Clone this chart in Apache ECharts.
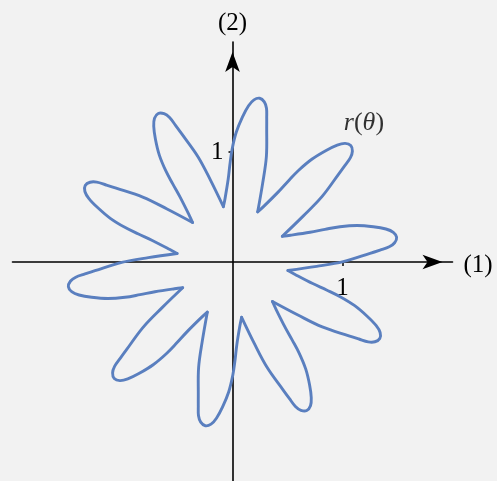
<!DOCTYPE html>
<html>
<head>
<meta charset="utf-8">
<script src="https://cdn.jsdelivr.net/npm/echarts@6/dist/echarts.min.js"></script>
<style>
  html, body { margin: 0; padding: 0; background: #f2f2f2; }
  #chart { width: 497px; height: 481px; }
</style>
</head>
<body>
<div id="chart"></div>
<script>
// Polar curve r(θ) drawn as ten petals; each list runs clockwise from one inner valley to the next.
const petalA = [[-0.083,0.503],[-0.068,0.576],[-0.039,0.754],[-0.023,0.892],[-0.003,1.028],[0.034,1.179],[0.090,1.317],[0.146,1.420],[0.195,1.474],[0.247,1.489],[0.289,1.456],[0.309,1.398],[0.311,1.309],[0.311,1.213],[0.308,0.959],[0.274,0.715],[0.229,0.456]];
const petalB = [[0.229,0.456],[0.284,0.506],[0.412,0.633],[0.506,0.735],[0.602,0.834],[0.721,0.934],[0.847,1.012],[0.952,1.063],[1.024,1.078],[1.075,1.059],[1.090,1.008],[1.072,0.949],[1.021,0.876],[0.965,0.799],[0.813,0.594],[0.642,0.417],[0.453,0.234]];
const petalC = [[0.453,0.234],[0.527,0.243],[0.705,0.270],[0.841,0.297],[0.977,0.321],[1.132,0.332],[1.280,0.321],[1.395,0.300],[1.462,0.270],[1.492,0.225],[1.474,0.175],[1.425,0.138],[1.341,0.109],[1.250,0.079],[1.007,0.003],[0.765,-0.040],[0.504,-0.077]];
const petalD = [[0.504,-0.077],[0.569,-0.113],[0.729,-0.196],[0.855,-0.254],[0.979,-0.315],[1.111,-0.397],[1.224,-0.493],[1.305,-0.577],[1.342,-0.641],[1.339,-0.695],[1.295,-0.725],[1.234,-0.726],[1.149,-0.700],[1.058,-0.671],[0.816,-0.590],[0.595,-0.482],[0.363,-0.359]];
const petalE = [[0.363,-0.359],[0.394,-0.426],[0.475,-0.587],[0.542,-0.708],[0.607,-0.830],[0.666,-0.974],[0.701,-1.118],[0.716,-1.234],[0.709,-1.307],[0.675,-1.350],[0.622,-1.348],[0.572,-1.313],[0.518,-1.242],[0.461,-1.164],[0.314,-0.957],[0.198,-0.740],[0.083,-0.503]];
const petalF = [[0.083,-0.503],[0.068,-0.576],[0.039,-0.754],[0.023,-0.892],[0.003,-1.028],[-0.034,-1.179],[-0.090,-1.317],[-0.146,-1.420],[-0.195,-1.474],[-0.247,-1.489],[-0.289,-1.456],[-0.309,-1.398],[-0.311,-1.309],[-0.311,-1.213],[-0.308,-0.959],[-0.274,-0.715],[-0.229,-0.456]];
const petalG = [[-0.229,-0.456],[-0.284,-0.506],[-0.412,-0.633],[-0.506,-0.735],[-0.602,-0.834],[-0.721,-0.934],[-0.847,-1.012],[-0.952,-1.063],[-1.024,-1.078],[-1.075,-1.059],[-1.090,-1.008],[-1.072,-0.949],[-1.021,-0.876],[-0.965,-0.799],[-0.813,-0.594],[-0.642,-0.417],[-0.453,-0.234]];
const petalH = [[-0.453,-0.234],[-0.527,-0.243],[-0.705,-0.270],[-0.841,-0.297],[-0.977,-0.321],[-1.132,-0.332],[-1.280,-0.321],[-1.395,-0.300],[-1.462,-0.270],[-1.492,-0.225],[-1.474,-0.175],[-1.425,-0.138],[-1.341,-0.109],[-1.250,-0.079],[-1.007,-0.003],[-0.765,0.040],[-0.504,0.077]];
const petalI = [[-0.504,0.077],[-0.569,0.113],[-0.729,0.196],[-0.855,0.254],[-0.979,0.315],[-1.111,0.397],[-1.224,0.493],[-1.305,0.577],[-1.342,0.641],[-1.339,0.695],[-1.295,0.725],[-1.234,0.726],[-1.149,0.700],[-1.058,0.671],[-0.816,0.590],[-0.595,0.482],[-0.363,0.359]];
const petalJ = [[-0.363,0.359],[-0.394,0.426],[-0.475,0.587],[-0.542,0.708],[-0.607,0.830],[-0.666,0.974],[-0.701,1.118],[-0.716,1.234],[-0.709,1.307],[-0.675,1.350],[-0.622,1.348],[-0.572,1.313],[-0.518,1.242],[-0.461,1.164],[-0.314,0.957],[-0.198,0.740],[-0.083,0.503]];

const petals = [petalA, petalB, petalC, petalD, petalE, petalF, petalG, petalH, petalI, petalJ];

// Axis names, the single labelled tick, and where the curve's name sits
const xAxisName = '(1)';
const yAxisName = '(2)';
const tickValues = [1];
const curveNameAt = [1.195, 1.265];

const SERIF = "'Liberation Serif', 'DejaVu Serif', serif";
const CURVE = '#5a7fbf';
const INK = '#000000';

// Plot box: the axes cross at the centre, so each axis is shifted half the box inward
const BOX = 440;
const HALF = BOX / 2;

const axisCommon = {
  type: 'value',
  min: -2,
  max: 2,
  splitLine: { show: false },
  axisLine: {
    onZero: false,
    symbol: ['none', 'arrow'],
    symbolSize: [11, 20],
    symbolOffset: [0, -10],
    lineStyle: { color: INK, width: 1.6 }
  },
  axisTick: { show: true, customValues: tickValues, length: 4, lineStyle: { color: INK, width: 1.5 } },
  axisLabel: {
    customValues: tickValues,
    fontFamily: SERIF, fontSize: 25, color: INK,
    formatter: v => String(v)
  },
  nameTextStyle: { fontFamily: SERIF, fontSize: 25, color: INK }
};

// Each petal is a smooth stroke through its points, placed with the cartesian scales.
const curveSeries = {
  type: 'custom',
  coordinateSystem: 'cartesian2d',
  data: petals.map(p => p[0]),
  silent: true,
  animation: false,
  clip: false,
  z: 1,
  renderItem: (params, api) => ({
    type: 'polyline',
    shape: {
      points: petals[params.dataIndex].map(pt => api.coord(pt)),
      smooth: 0.36
    },
    style: {
      fill: null,
      stroke: CURVE,
      lineWidth: 2.9,
      lineCap: 'round',
      lineJoin: 'round'
    }
  })
};

const nameSeries = {
  type: 'scatter',
  data: [curveNameAt],
  symbolSize: 0,
  silent: true,
  animation: false,
  label: {
    show: true,
    position: 'inside',
    formatter: '{i|r}{n|(}{i|θ}{n|)}',
    rich: {
      i: { fontFamily: SERIF, fontSize: 26, fontStyle: 'italic', color: INK },
      n: { fontFamily: SERIF, fontSize: 26, color: INK }
    }
  }
};

const chart = echarts.init(document.getElementById('chart'), null, { renderer: 'canvas' });
chart.setOption({
  backgroundColor: '#f2f2f2',
  animation: false,
  grid: { left: 12.5, top: 42, width: BOX, height: BOX, containLabel: false, outerBoundsMode: 'none' },
  xAxis: Object.assign({}, axisCommon, {
    position: 'bottom', offset: -HALF,
    name: xAxisName, nameLocation: 'end', nameGap: 11,
    nameTextStyle: Object.assign({}, axisCommon.nameTextStyle, { verticalAlign: 'top', lineHeight: 6 }),
    axisLabel: Object.assign({}, axisCommon.axisLabel, { margin: 14 })
  }),
  yAxis: Object.assign({}, axisCommon, {
    position: 'left', offset: -HALF,
    name: yAxisName, nameLocation: 'end', nameGap: 6,
    axisLabel: Object.assign({}, axisCommon.axisLabel, { margin: 9 })
  }),
  series: [curveSeries, nameSeries]
});
</script>
</body>
</html>
